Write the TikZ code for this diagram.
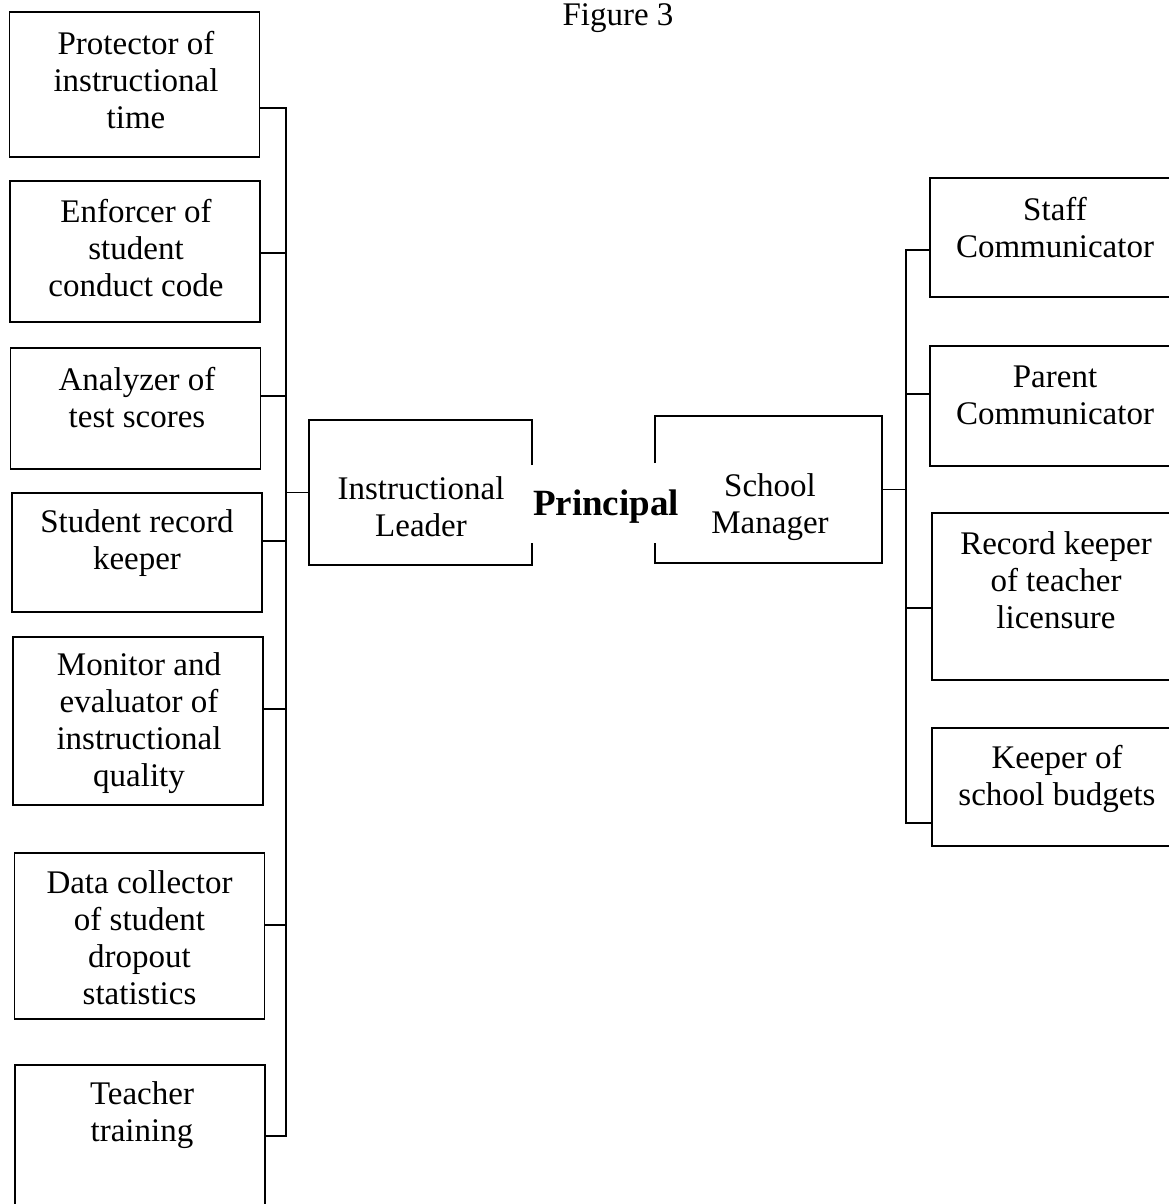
\documentclass[tikz,border=0pt]{standalone}
\usepackage{fontspec}
\setmainfont{Liberation Serif}
\begin{document}
\begin{tikzpicture}[x=1pt,y=-1pt, line width=1.9pt,
  box/.style={draw, minimum width=250pt, inner sep=0pt},
  lbl/.style={align=center, font=\fontsize{33}{37}\selectfont, inner sep=0pt},
  ghost/.style={inner sep=0pt}]
\useasboundingbox (0,0) rectangle (1168,1204);

% title
\node[lbl, anchor=base] (fig) at (618,26) {Figure 3};

% left column boxes
\node[box, minimum height=145pt] (b1) at (134.5,84.5) {};
\node[box, minimum height=141pt] (b2) at (135,251.5) {};
\node[box, minimum height=121pt] (b3) at (135.5,408.5) {};
\node[box, minimum height=119pt] (b4) at (137,552.5) {};
\node[box, minimum height=168pt] (b5) at (138,721) {};
\node[box, minimum height=166pt] (b6) at (139.5,936) {};
\node[box, minimum height=170pt] (b7) at (140,1150) {};

\node[lbl] (t1) at (136,80) {Protector of\\instructional\\time};
\node[lbl] (t2) at (136,248) {Enforcer of\\student\\conduct code};
\node[lbl] (t3) at (137,397.5) {Analyzer of\\test scores};
\node[lbl] (t4) at (137,543) {Student record\\keeper};
\node[lbl] (t5) at (139,723) {Monitor and\\evaluator of\\instructional\\quality};
\node[lbl] (t6) at (139.5,938) {Data collector\\of student\\dropout\\statistics};
\node[lbl] (t7) at (142,1115) {Teacher\\training};

% left spine
\coordinate (L1) at (286,108);
\coordinate (L2) at (286,253);
\coordinate (L3) at (286,396);
\coordinate (L4) at (286,541);
\coordinate (L5) at (286,709);
\coordinate (L6) at (286,925);
\coordinate (L7) at (286,1136);
\draw (b1.east |- L1) -- (L1) -- (L7) -- (b7.east |- L7);
\foreach \i in {2,...,6} {\draw (b\i.east |- L\i) -- (L\i);}

% Instructional Leader
\node[ghost, minimum width=221pt, minimum height=143pt] (IL) at (420.5,492.5) {};
\draw (IL.east |- 0,465) -- (IL.north east) -- (IL.north west) -- (IL.south west) -- (IL.south east) -- (IL.east |- 0,543);
\node[lbl] (tIL) at (421,507) {Instructional\\Leader};
\draw (IL.west) -- (IL.west -| L1);

% Principal
\node[inner sep=0pt, font=\fontsize{37}{40}\selectfont\bfseries] (P) at (606,507) {Principal};

% School Manager
\node[ghost, minimum width=225pt, minimum height=145pt] (SM) at (768.5,489.5) {};
\draw (SM.west |- 0,463) -- (SM.north west) -- (SM.north east) -- (SM.south east) -- (SM.south west) -- (SM.west |- 0,543);
\node[lbl] (tSM) at (770,507) {School\\Manager};

% right column boxes
\node[box, minimum height=119pt] (r1) at (1055,237.5) {};
\node[box, minimum height=120pt] (r2) at (1055,406) {};
\node[box, minimum height=167pt] (r3) at (1057,596.5) {};
\node[box, minimum height=118pt] (r4) at (1057,787) {};

\node[lbl] (s1) at (1055,228) {Staff\\Communicator};
\node[lbl] (s2) at (1055,395.5) {Parent\\Communicator};
\node[lbl] (s3) at (1056,580) {Record keeper\\of teacher\\licensure};
\node[lbl] (s4) at (1057,778.5) {Keeper of\\school budgets};

% right spine
\coordinate (R1) at (906,250);
\coordinate (R2) at (906,394);
\coordinate (R3) at (906,608);
\coordinate (R4) at (906,823);
\draw (r1.west |- R1) -- (R1) -- (R4) -- (r4.west |- R4);
\draw (r2.west |- R2) -- (R2);
\draw (r3.west |- R3) -- (R3);
\draw (SM.east) -- (SM.east -| R1);
\end{tikzpicture}
\end{document}
